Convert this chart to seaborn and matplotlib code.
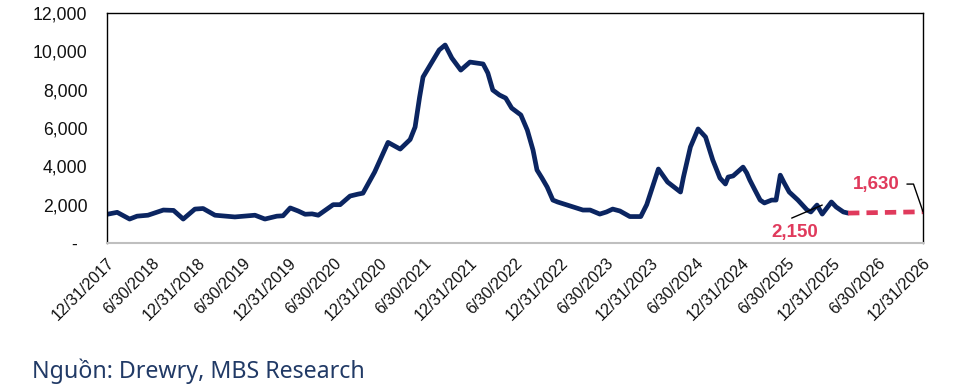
import pandas as pd
import seaborn as sns
import matplotlib
matplotlib.use('Agg')
import matplotlib.pyplot as plt
from matplotlib.ticker import FuncFormatter

# Drewry container freight index (USD/FEU)
hist_dates = [
    "2018-01-01", "2018-02-10", "2018-04-01", "2018-05-01", "2018-06-14", "2018-08-15",
    "2018-09-25", "2018-11-03", "2018-12-20", "2019-01-22", "2019-03-11", "2019-05-30",
    "2019-08-19", "2019-09-28", "2019-11-15", "2019-12-10", "2020-01-08", "2020-02-09",
    "2020-03-08", "2020-04-05", "2020-04-30", "2020-06-29", "2020-07-27", "2020-09-05",
    "2020-10-07", "2020-10-27", "2020-12-13", "2021-02-05", "2021-03-26", "2021-05-05",
    "2021-05-25", "2021-06-12", "2021-06-26", "2021-07-25", "2021-08-30", "2021-09-23",
    "2021-10-20", "2021-11-25", "2022-01-01", "2022-02-23", "2022-03-14", "2022-04-03",
    "2022-04-30", "2022-05-25", "2022-06-18", "2022-07-25", "2022-08-20", "2022-09-12",
    "2022-09-28", "2022-10-18", "2022-11-08", "2022-12-01", "2022-12-20", "2023-04-01",
    "2023-04-30", "2023-06-08", "2023-07-05", "2023-07-30", "2023-08-28", "2023-10-07",
    "2023-11-20", "2023-12-14", "2024-01-30", "2024-03-07", "2024-04-28", "2024-05-10",
    "2024-06-07", "2024-07-08", "2024-08-07", "2024-09-05", "2024-10-04", "2024-10-26",
    "2024-11-06", "2024-11-26", "2025-01-05", "2025-01-20", "2025-02-01", "2025-02-22",
    "2025-03-15", "2025-04-01", "2025-04-30", "2025-05-18", "2025-06-04", "2025-06-20",
    "2025-07-10", "2025-08-14", "2025-09-20", "2025-10-05", "2025-10-30", "2025-11-20",
    "2025-12-27", "2026-01-15", "2026-02-13", "2026-03-04",
]
hist_values = [
    1500, 1600, 1250, 1400, 1450, 1720,
    1700, 1250, 1770, 1800, 1450, 1360,
    1450, 1250, 1400, 1420, 1830, 1670,
    1500, 1520, 1450, 2000, 2000, 2450,
    2550, 2600, 3700, 5250, 4900, 5400,
    6050, 7600, 8660, 9290, 10070, 10330,
    9650, 9020, 9440, 9340, 8870, 7980,
    7720, 7560, 7040, 6680, 5890, 4850,
    3810, 3390, 2920, 2240, 2140, 1720,
    1720, 1510, 1620, 1770, 1670, 1380,
    1380, 2000, 3860, 3180, 2660, 3440,
    5010, 5950, 5530, 4330, 3390, 3080,
    3440, 3500, 3960, 3650, 3290, 2760,
    2240, 2090, 2240, 2240, 3540, 3130,
    2660, 2240, 1720, 1620, 1980, 1510,
    2140, 1880, 1620, 1560,
]
fcst_dates = ["2026-03-04", "2026-12-31"]
fcst_values = [1560, 1630]

tick_dates = [
    "2017-12-31", "2018-06-30", "2018-12-31", "2019-06-30", "2019-12-31", "2020-06-30",
    "2020-12-31", "2021-06-30", "2021-12-31", "2022-06-30", "2022-12-31", "2023-06-30",
    "2023-12-31", "2024-06-30", "2024-12-31", "2025-06-30", "2025-12-31", "2026-06-30",
    "2026-12-31",
]
tick_labels = [
    "12/31/2017", "6/30/2018", "12/31/2018", "6/30/2019", "12/31/2019", "6/30/2020",
    "12/31/2020", "6/30/2021", "12/31/2021", "6/30/2022", "12/31/2022", "6/30/2023",
    "12/31/2023", "6/30/2024", "12/31/2024", "6/30/2025", "12/31/2025", "6/30/2026",
    "12/31/2026",
]
y_ticks = [0, 2000, 4000, 6000, 8000, 10000, 12000]

source_text = "Ngu\u1ed3n: Drewry, MBS Research"

NAVY = "#0b2561"
RED = "#e03a5c"

sns.set_theme(style="white")
plt.rcParams['font.family'] = ['Liberation Sans', 'DejaVu Sans']

fig, ax = plt.subplots(figsize=(9.64, 3.89), dpi=100)
fig.subplots_adjust(left=0.111, right=0.9575, top=0.9666, bottom=0.3753)

hist = pd.DataFrame({"date": pd.to_datetime(hist_dates), "value": hist_values})
fcst = pd.DataFrame({"date": pd.to_datetime(fcst_dates), "value": fcst_values})

sns.lineplot(data=hist, x="date", y="value", color=NAVY, linewidth=3.4, ax=ax,
             solid_capstyle="round", solid_joinstyle="round")
sns.lineplot(data=fcst, x="date", y="value", color=RED, linewidth=3.4, ax=ax)
ax.lines[-1].set_dashes([2.4, 1.5])

ax.set_xlim(pd.Timestamp(tick_dates[0]), pd.Timestamp(tick_dates[-1]))
ax.set_ylim(0, 12000)
ax.set_xlabel("")
ax.set_ylabel("")

ax.set_yticks(y_ticks)
ax.yaxis.set_major_formatter(FuncFormatter(lambda v, p: "-  " if v == 0 else f"{int(v):,}"))
ax.tick_params(axis="y", length=0, pad=14, labelsize=12.7, labelcolor="#111111")

ax.set_xticks(pd.to_datetime(tick_dates))
ax.set_xticklabels(tick_labels, rotation=45, ha="right", rotation_mode="anchor")
ax.tick_params(axis="x", length=3, width=1, color="#bfbfbf", direction="out",
               pad=6, labelsize=11.6, labelcolor="#111111")

for side in ["left", "top", "right"]:
    ax.spines[side].set_color("black")
    ax.spines[side].set_linewidth(1.0)
ax.spines["bottom"].set_color("#bfbfbf")
ax.spines["bottom"].set_linewidth(1.5)

# label 2,150 with its leader line
ax.annotate("", xy=(pd.Timestamp("2025-11-20"), 1980),
            xytext=(pd.Timestamp("2025-07-20"), 1300),
            arrowprops=dict(arrowstyle="-", color="black", lw=1.0, shrinkA=0, shrinkB=0),
            zorder=5)
ax.text(pd.Timestamp("2025-08-03"), 570, "2,150", ha="center", va="center",
        fontsize=13.5, fontweight="bold", color=RED)

# label 1,630 with an elbow leader to the end of the forecast
ax.annotate("1,630", xy=(pd.Timestamp(fcst_dates[-1]), fcst_values[-1]),
            xytext=(pd.Timestamp("2026-06-25"), 3030), ha="center", va="center",
            fontsize=13.5, fontweight="bold", color=RED,
            arrowprops=dict(arrowstyle="-", color="black", lw=1.0,
                            relpos=(1.0, 0.55), shrinkA=3, shrinkB=0,
                            connectionstyle="angle,angleA=0,angleB=109,rad=0"),
            annotation_clip=False, zorder=5)

fig.text(32 / 964, 1 - 378 / 389, source_text, fontsize=16.7, family=['Noto Sans', 'DejaVu Sans'],
         color="#213a66", ha="left", va="baseline")

fig.savefig("out.png", dpi=100)
plt.close(fig)
